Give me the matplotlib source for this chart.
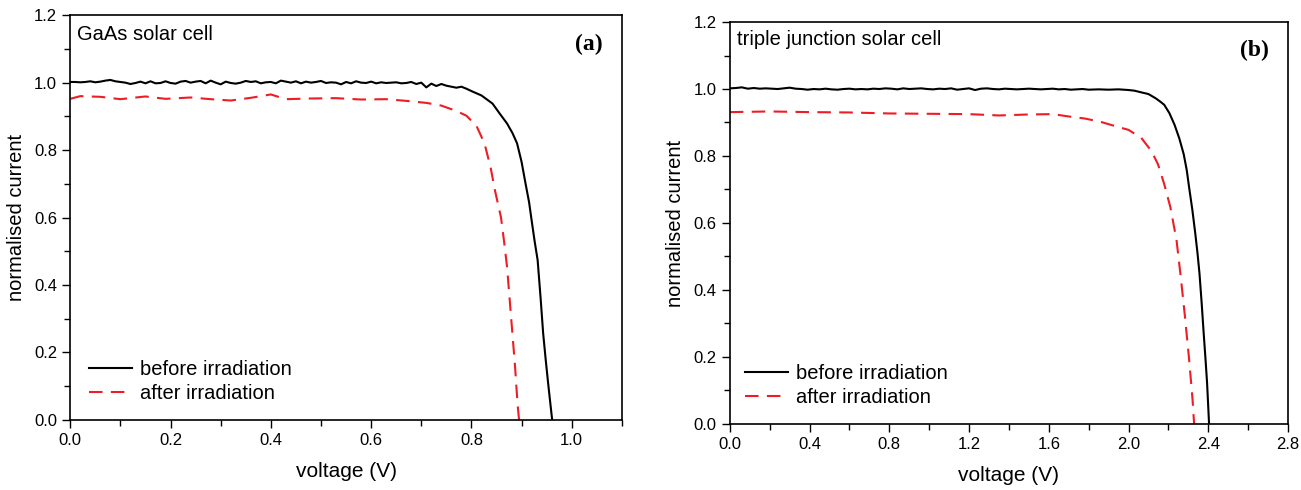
import numpy as np
import matplotlib
matplotlib.use("Agg")
import matplotlib.pyplot as plt
from matplotlib.ticker import MultipleLocator, FormatStrFormatter

plt.rcParams['font.family'] = ['Liberation Sans', 'DejaVu Sans']

# ---- (a) GaAs solar cell ----
# flat part of "before", read every 0.01 V
gaas_before_flat = [1.002, 1.002, 1.001, 1.002, 1.004, 1.001, 1.003, 1.006, 1.008, 1.004,
                    1.002, 1.000, 0.996, 0.999, 1.003, 0.998, 1.004, 0.998, 0.999, 1.004,
                    0.999, 0.997, 1.003, 1.005, 1.000, 1.003, 1.005, 0.998, 1.006, 1.000,
                    0.995, 1.003, 0.999, 0.997, 1.000, 1.005, 1.002, 1.004, 0.998, 1.001,
                    1.002, 0.998, 1.006, 1.003, 1.000, 1.004, 0.998, 1.003, 1.000, 1.002,
                    1.005, 0.999, 1.001, 1.000, 0.995, 1.002, 0.998, 1.004, 1.000, 0.999,
                    1.003, 0.998, 1.001, 0.999, 1.000, 1.001, 0.998, 0.999, 1.002, 0.996,
                    1.000, 0.986, 0.997, 0.990, 0.996, 0.991, 0.988, 0.985, 0.988, 0.982]
gaas_v_before = list(np.round(np.arange(0, 0.80, 0.01), 3)) + \
    [0.80, 0.82, 0.842, 0.858, 0.871, 0.882, 0.891, 0.900, 0.908, 0.915, 0.920,
     0.926, 0.932, 0.938, 0.943, 0.948, 0.953, 0.958, 0.961]
gaas_i_before = gaas_before_flat + \
    [0.975, 0.962, 0.938, 0.905, 0.879, 0.850, 0.820, 0.765, 0.700, 0.645, 0.592,
     0.530, 0.474, 0.360, 0.257, 0.180, 0.108, 0.040, 0.0]

gaas_v_after = [0.0, 0.02, 0.06, 0.10, 0.15, 0.19, 0.24, 0.28, 0.32, 0.36, 0.40,
                0.43, 0.48, 0.53, 0.58, 0.63, 0.67, 0.71, 0.74, 0.77, 0.79,
                0.81, 0.826, 0.838, 0.847, 0.853, 0.859, 0.865, 0.871, 0.875,
                0.879, 0.883, 0.887, 0.890, 0.893, 0.895]
gaas_i_after = [0.952, 0.960, 0.958, 0.951, 0.959, 0.952, 0.956, 0.951, 0.947, 0.955, 0.965,
                0.951, 0.953, 0.954, 0.950, 0.951, 0.946, 0.940, 0.932, 0.916, 0.902,
                0.872, 0.820, 0.750, 0.680, 0.640, 0.600, 0.530, 0.454, 0.380,
                0.306, 0.232, 0.158, 0.090, 0.030, 0.0]

# ---- (b) triple junction solar cell ----
tj_v_before = [0.0, 0.03, 0.06, 0.09, 0.12, 0.15, 0.18, 0.21, 0.24, 0.27, 0.30, 0.33,
               0.36, 0.39, 0.42, 0.45, 0.48, 0.51, 0.54, 0.57, 0.60, 0.63, 0.66, 0.69,
               0.72, 0.75, 0.78, 0.81, 0.84, 0.87, 0.90, 0.93, 0.96, 0.99, 1.02, 1.05,
               1.08, 1.11, 1.14, 1.17, 1.20, 1.23, 1.26, 1.29, 1.32, 1.35, 1.38, 1.41,
               1.44, 1.47, 1.50, 1.53, 1.56, 1.59, 1.62, 1.65, 1.68, 1.71, 1.74, 1.77,
               1.80, 1.85, 1.90, 1.95, 2.00, 2.03, 2.064, 2.10, 2.137, 2.16, 2.179,
               2.205, 2.231, 2.255, 2.277, 2.292, 2.304, 2.320, 2.335, 2.346, 2.356,
               2.367, 2.377, 2.386, 2.394, 2.400, 2.404]
tj_i_before = [1.002, 1.003, 1.005, 1.001, 1.003, 1.001, 1.002, 1.001, 1.000, 1.002, 1.004, 1.001,
               1.000, 0.998, 1.000, 0.999, 1.001, 0.999, 0.998, 1.000, 1.001, 0.999, 1.000, 0.999,
               1.001, 1.000, 1.002, 1.001, 0.999, 1.002, 1.000, 1.001, 1.002, 1.000, 0.999, 1.001,
               1.000, 1.002, 0.998, 1.000, 1.002, 0.997, 1.001, 1.002, 1.000, 0.999, 1.001, 1.000,
               0.999, 1.000, 1.001, 1.000, 0.999, 1.000, 1.001, 0.999, 1.000, 0.998, 0.999, 1.000,
               0.998, 0.999, 0.998, 0.999, 0.997, 0.995, 0.990, 0.985, 0.972, 0.962, 0.953,
               0.928, 0.893, 0.852, 0.805, 0.758, 0.706, 0.640, 0.568, 0.510, 0.449,
               0.360, 0.271, 0.195, 0.123, 0.050, 0.0]

tj_v_after = [0.0, 0.1, 0.2, 0.4, 0.6, 0.8, 1.0, 1.2, 1.35, 1.5, 1.62, 1.70, 1.78,
              1.86, 1.94, 2.00, 2.064, 2.116, 2.148, 2.179, 2.21, 2.241, 2.262,
              2.283, 2.304, 2.321, 2.329]
tj_i_after = [0.931, 0.932, 0.933, 0.931, 0.930, 0.927, 0.926, 0.925, 0.921, 0.924, 0.925, 0.918, 0.912,
              0.902, 0.888, 0.878, 0.854, 0.814, 0.775, 0.716, 0.647, 0.548, 0.439,
              0.321, 0.192, 0.074, 0.0]

panels = [
    dict(vb=gaas_v_before, ib=gaas_i_before, va=gaas_v_after, ia=gaas_i_after,
         xmax=1.1, xmaj=0.2, xmin=0.1, title='GaAs solar cell', tag='(a)',
         rect=[0.054, 0.143, 0.424, 0.826], tpos=0.975, lx=0.034),
    dict(vb=tj_v_before, ib=tj_i_before, va=tj_v_after, ia=tj_i_after,
         xmax=2.8, xmaj=0.4, xmin=0.2, title='triple junction solar cell', tag='(b)',
         rect=[0.561, 0.135, 0.429, 0.820], tpos=0.98, lx=0.027),
]

fig = plt.figure(figsize=(13.01, 4.90), dpi=100)

for p in panels:
    ax = fig.add_axes(p['rect'])
    ax.plot(p['vb'], p['ib'], color='black', lw=1.5, label='before irradiation')
    ax.plot(p['va'], p['ia'], color='#ee1c24', lw=1.5, ls=(0, (6.5, 4)), label='after irradiation')
    ax.set_xlim(0, p['xmax'])
    ax.set_ylim(0, 1.2)
    ax.xaxis.set_major_locator(MultipleLocator(p['xmaj']))
    ax.xaxis.set_minor_locator(MultipleLocator(p['xmin']))
    ax.yaxis.set_major_locator(MultipleLocator(0.2))
    ax.yaxis.set_minor_locator(MultipleLocator(0.1))
    ax.xaxis.set_major_formatter(FormatStrFormatter('%.1f'))
    ax.yaxis.set_major_formatter(FormatStrFormatter('%.1f'))
    ax.tick_params(which='both', direction='out', top=False, right=False,
                   labelsize=12, colors='black')
    ax.tick_params(which='major', length=6, width=1)
    ax.tick_params(which='minor', length=4, width=1)
    for s in ax.spines.values():
        s.set_linewidth(1.2)
    ax.set_xlabel('voltage (V)', fontsize=15, labelpad=10)
    ax.set_ylabel('normalised current', fontsize=14.5, labelpad=6)
    ax.text(0.012, p['tpos'], p['title'], transform=ax.transAxes, fontsize=14.5,
            ha='left', va='top')
    ax.text(0.965, 0.955, p['tag'], transform=ax.transAxes, fontsize=17,
            fontweight='bold', family='Liberation Serif', ha='right', va='top')
    ax.legend(loc='lower left', bbox_to_anchor=(p['lx'], 0.042), frameon=False,
              fontsize=14.5, handlelength=2.15, handletextpad=0.4, labelspacing=0.25,
              borderpad=0, borderaxespad=0)

fig.savefig('out.png', dpi=100)
